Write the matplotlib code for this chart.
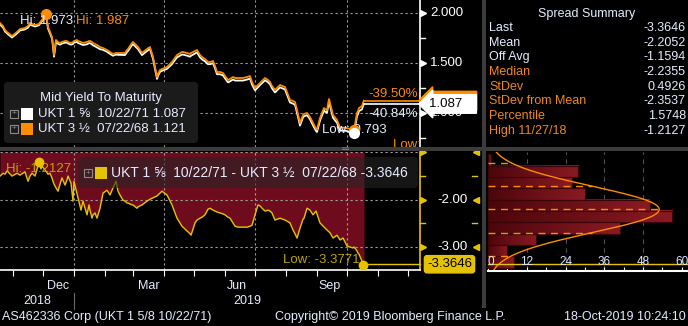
import numpy as np
import pandas as pd
import matplotlib
matplotlib.use('Agg')
import matplotlib.pyplot as plt
from matplotlib.patches import FancyBboxPatch, Rectangle
from matplotlib.colors import LinearSegmentedColormap
from matplotlib.transforms import blended_transform_factory as blend, IdentityTransform

plt.rcParams['font.family'] = ['Liberation Sans', 'DejaVu Sans']

# --- data -------------------------------------------------------------------
dates = [
    '2018-10-19', '2018-10-22', '2018-10-24', '2018-10-26', '2018-10-31', '2018-11-05', '2018-11-08', '2018-11-13', '2018-11-16', '2018-11-18',
    '2018-11-20', '2018-11-23', '2018-11-27', '2018-11-29', '2018-11-30', '2018-12-04', '2018-12-06', '2018-12-08', '2018-12-10', '2018-12-11',
    '2018-12-12', '2018-12-14', '2018-12-16', '2018-12-18', '2018-12-20', '2018-12-23', '2018-12-25', '2018-12-26', '2018-12-29', '2018-12-31',
    '2019-01-01', '2019-01-04', '2019-01-05', '2019-01-08', '2019-01-10', '2019-01-14', '2019-01-16', '2019-01-17', '2019-01-19', '2019-01-20',
    '2019-01-22', '2019-01-24', '2019-01-27', '2019-01-30', '2019-02-03', '2019-02-06', '2019-02-09', '2019-02-12', '2019-02-14', '2019-02-16',
    '2019-02-19', '2019-02-21', '2019-02-23', '2019-02-24', '2019-02-28', '2019-03-01', '2019-03-05', '2019-03-06', '2019-03-10', '2019-03-15',
    '2019-03-18', '2019-03-21', '2019-03-25', '2019-03-26', '2019-03-28', '2019-03-30', '2019-04-04', '2019-04-09', '2019-04-14', '2019-04-19',
    '2019-04-20', '2019-04-24', '2019-04-27', '2019-04-28', '2019-05-02', '2019-05-04', '2019-05-07', '2019-05-09', '2019-05-12', '2019-05-15',
    '2019-05-17', '2019-05-20', '2019-05-22', '2019-05-24', '2019-05-27', '2019-05-30', '2019-06-01', '2019-06-04', '2019-06-06', '2019-06-09',
    '2019-06-11', '2019-06-14', '2019-06-16', '2019-06-19', '2019-06-23', '2019-06-26', '2019-06-28', '2019-07-01', '2019-07-04', '2019-07-06',
    '2019-07-08', '2019-07-11', '2019-07-14', '2019-07-16', '2019-07-18', '2019-07-21', '2019-07-26', '2019-07-31', '2019-08-05', '2019-08-08',
    '2019-08-10', '2019-08-12', '2019-08-15', '2019-08-18', '2019-08-19', '2019-08-22', '2019-08-25', '2019-08-28', '2019-08-31', '2019-09-01',
    '2019-09-04', '2019-09-08', '2019-09-09', '2019-09-11', '2019-09-13', '2019-09-14', '2019-09-17', '2019-09-21', '2019-09-24', '2019-09-27',
    '2019-09-29', '2019-10-01', '2019-10-04', '2019-10-07', '2019-10-08', '2019-10-11', '2019-10-12', '2019-10-13', '2019-10-16', '2019-10-17',
    '2019-10-18',
]

# UKT 3 1/2 07/22/68 mid yield (orange)
ukt68 = [
    1.897, 1.867, 1.827, 1.807, 1.767, 1.807, 1.837, 1.847, 1.867, 1.897,
    1.887, 1.877, 1.887, 1.917, 1.927, 1.987, 1.857, 1.807, 1.757, 1.677,
    1.577, 1.727, 1.707, 1.697, 1.707, 1.717, 1.717, 1.707, 1.697, 1.707,
    1.717, 1.727, 1.717, 1.707, 1.697, 1.707, 1.717, 1.717, 1.707, 1.697,
    1.687, 1.677, 1.657, 1.647, 1.627, 1.607, 1.587, 1.597, 1.597, 1.597,
    1.597, 1.597, 1.627, 1.637, 1.697, 1.707, 1.667, 1.657, 1.597, 1.637,
    1.657, 1.557, 1.357, 1.387, 1.427, 1.437, 1.457, 1.507, 1.577, 1.607,
    1.607, 1.597, 1.587, 1.597, 1.617, 1.627, 1.577, 1.557, 1.537, 1.507,
    1.507, 1.517, 1.467, 1.407, 1.407, 1.397, 1.367, 1.327, 1.337, 1.357,
    1.347, 1.347, 1.347, 1.347, 1.357, 1.367, 1.307, 1.247, 1.277, 1.297,
    1.317, 1.347, 1.327, 1.307, 1.267, 1.227, 1.277, 1.257, 1.127, 1.117,
    1.107, 1.027, 0.897, 0.977, 0.987, 0.997, 0.957, 0.897, 0.840, 0.830,
    0.947, 1.047, 1.037, 1.027, 1.137, 1.097, 0.977, 0.927, 0.850, 0.850,
    0.850, 0.845, 0.838, 0.830, 0.823, 0.997, 1.017, 1.047, 1.067, 1.100,
    1.121,
]

# spread UKT 1 5/8 71 - UKT 3 1/2 68, in bp (yellow)
spread_bp = [
    -1.50, -1.44, -1.46, -1.39, -1.50, -1.44, -1.48, -1.41, -1.61, -1.50,
    -1.44, -1.50, -1.2127, -1.35, -1.29, -1.40, -1.46, -1.44, -1.54, -1.61,
    -1.67, -1.75, -1.82, -1.67, -1.54, -1.69, -1.58, -1.50, -1.65, -2.03,
    -1.61, -1.88, -1.96, -2.22, -2.03, -2.32, -2.11, -2.22, -2.39, -2.32,
    -2.28, -2.39, -2.18, -1.86, -1.80, -1.90, -1.75, -1.61, -1.82, -1.90,
    -2.01, -2.03, -2.07, -2.07, -2.11, -2.11, -2.18, -2.15, -2.11, -2.03,
    -1.99, -1.96, -1.92, -1.90, -1.86, -1.82, -1.90, -2.11, -2.39, -2.56,
    -2.58, -2.66, -2.72, -2.75, -2.49, -2.43, -2.39, -2.37, -2.32, -2.20,
    -2.18, -2.22, -2.24, -2.26, -2.28, -2.30, -2.32, -2.37, -2.39, -2.49,
    -2.56, -2.58, -2.58, -2.58, -2.58, -2.56, -2.54, -2.32, -2.11, -2.13,
    -2.18, -2.24, -2.22, -2.24, -2.28, -2.43, -2.39, -2.43, -2.49, -2.64,
    -2.72, -2.81, -2.60, -2.41, -2.39, -2.18, -2.22, -2.32, -2.24, -2.30,
    -2.49, -2.58, -2.60, -2.64, -2.68, -2.70, -2.81, -2.75, -2.85, -2.81,
    -2.89, -2.98, -3.00, -3.02, -3.00, -3.08, -3.13, -3.15, -3.30, -3.3771,
    -3.3646,
]

bond_names = ['UKT 1 \u215d  10/22/71', 'UKT 3 \u00bd  07/22/68']
pct_change = ['-40.84%', '-39.50%']

hist_edges = [-3.44, -3.20, -2.96, -2.72, -2.48, -2.24, -2.00, -1.76, -1.52, -1.28, -1.04]
hist_counts = [8, 6, 15, 41, 57, 50, 30, 26, 28, 1]
spread_mean = -2.2052
spread_std = 0.4926
curve_peak = 53

summary_labels = ['Last', 'Mean', 'Off Avg', 'Median', 'StDev', 'StDev from Mean', 'Percentile', 'High 11/27/18']
summary_values = ['-3.3646', '-2.2052', '-1.1594', '-2.2355', '0.4926', '-2.3537', '1.5748', '-1.2127']

yield_ticks = [1.0, 1.5, 2.0]
spread_ticks = [-1.0, -2.0, -3.0]
quarter_starts = ['2019-01-01', '2019-04-01', '2019-07-01', '2019-10-01']
month_labels = ['Dec', 'Mar', 'Jun', 'Sep']
month_mids = ['2018-12-16', '2019-03-17', '2019-06-13', '2019-09-14']
footer = ['AS462336 Corp (UKT 1 5/8 10/22/71)', 'Copyright\u00a9 2019 Bloomberg Finance L.P.', '18-Oct-2019 10:24:10']

# --- styling -----------------------------------------------------------------
ORANGE = '#ff8c00'
YELLOW = '#e6c300'
OLIVE = '#bca400'
REDFILL = '#6e0c1e'
TXT = '#e6ecff'
LBL_OR = '#f0881a'
SEP = '#3c3c3c'
W, H = 688, 326

d = pd.to_datetime(dates)
y68 = np.array(ukt68)
spr = np.array(spread_bp)
y71 = y68 + spr / 100.0   # spread is the yield difference in bp

t0 = pd.Timestamp('2018-10-19')
t1 = t0 + pd.Timedelta(days=420)


def rect(x0, y0, x1, y1):
    return [x0 / W, 1 - y1 / H, (x1 - x0) / W, (y1 - y0) / H]


def ptext(x, y, s, **kw):
    fig.text(x / W, 1 - y / H, s, **kw)


def pbox(x0, y0, x1, y1, r=4, **kw):
    p = FancyBboxPatch((x0, H - y1), x1 - x0, y1 - y0, boxstyle='round,pad=0,rounding_size=%d' % r,
                       transform=IdentityTransform(), **kw)
    fig.add_artist(p)


def plusbox(x, y):
    fig.add_artist(Rectangle((x - 4, H - y - 4), 8, 8, transform=IdentityTransform(),
                             fill=False, ec='#8a8a8a', lw=0.8, zorder=20))
    ptext(x, y, '+', color='#8a8a8a', fontsize=6, ha='center', va='center', zorder=21)


fig = plt.figure(figsize=(6.88, 3.26), dpi=100, facecolor='black')

ax1 = fig.add_axes(rect(0, 0, 420, 147))
ax2 = fig.add_axes(rect(0, 152, 420, 270))
ax3 = fig.add_axes(rect(488, 152, 688, 270))
for ax in (ax1, ax2, ax3):
    ax.set_facecolor('black')
    for s in ax.spines.values():
        s.set_visible(False)
    ax.set_xticks([])
    ax.set_yticks([])

ax1.set_xlim(t0, t1)
ax2.set_xlim(t0, t1)
ax1.set_ylim(0.657, 2.127)
ax2.set_ylim(-3.486, -0.9915)

grid_kw = dict(color='#a0a0a0', lw=0.8, ls=(0, (2, 2.5)), zorder=1)
for v in yield_ticks:
    ax1.axhline(v, **grid_kw)
for v in spread_ticks:
    ax2.axhline(v, **grid_kw)
for q in quarter_starts:
    ax1.axvline(pd.Timestamp(q), **grid_kw)
    ax2.axvline(pd.Timestamp(q), **grid_kw)

# --- top panel: yields -------------------------------------------------------
ax1.plot(d, y71, color='white', lw=1.3, zorder=3)
ax1.plot(d, y68, color=ORANGE, lw=1.3, zorder=4)
ax1.plot([d[-1], t1], [y68[-1]] * 2, color=ORANGE, lw=1.2, zorder=4, clip_on=False)
ax1.plot([d[-1], t1], [y71[-1]] * 2, color='white', lw=1.2, zorder=4, clip_on=False)
ax1.annotate(pct_change[1], (t1, y68[-1]), xytext=(-2, 1), textcoords='offset pixels',
             color=ORANGE, fontsize=9.5, ha='right', va='bottom', zorder=5)
ax1.annotate(pct_change[0], (t1, y71[-1]), xytext=(-2, -4), textcoords='offset pixels',
             color=TXT, fontsize=9.5, ha='right', va='top', zorder=5)

ih = int(np.argmax(y68))
ax1.plot(d[ih], y68[ih], 'o', ms=7, color=ORANGE, zorder=6)
ax1.annotate('Hi: %.3f' % y71[ih], (d[ih], y68[ih]), xytext=(27, -7), textcoords='offset pixels',
             color=TXT, fontsize=9.5, ha='right', va='center', zorder=7)
ax1.annotate('Hi: %.3f' % y68[ih], (d[ih], y68[ih]), xytext=(30, -7), textcoords='offset pixels',
             color=ORANGE, fontsize=9.5, ha='left', va='center', zorder=7)

il = int(np.argmin(y71))
ax1.annotate('Low: %.3f' % y71[il], (d[il], y71[il]), xytext=(-32, 3), textcoords='offset pixels',
             color=TXT, fontsize=9.5, ha='left', va='center', zorder=5)
ax1.plot(d[il], y68[il], 'o', ms=7, color=ORANGE, zorder=6)
ax1.plot(d[il], y71[il], 'o', ms=7, color='white', zorder=6)
# orange low label sits under the panel edge, so only its top shows
ax1.annotate('Low: %.3f' % y68[il], (d[il], y68[il]), xytext=(39, -15), textcoords='offset pixels',
             color=ORANGE, fontsize=9.5, ha='left', va='center', zorder=5, clip_on=True)

# right axis of top panel
tr1 = blend(ax1.transAxes, ax1.transData)
ax1.plot([1, 1], [0, 1], transform=ax1.transAxes, color='white', lw=1.2, clip_on=False)
for v in yield_ticks:
    ax1.plot(1.0 + 3 / 420, v, marker='>', ms=5, color='white', transform=tr1, clip_on=False)
    ax1.text(1.0 + 10 / 420, v, '%.3f' % v, transform=tr1, color='white', fontsize=9.5,
             ha='left', va='center', clip_on=False)
for v in [0.75, 1.25, 1.75]:
    ax1.plot([1.0, 1.0 + 5 / 420], [v, v], transform=tr1, color='white', lw=1, clip_on=False)
ax1.text(1.0 + 9 / 420, y68[-1], '%.3f   ' % y68[-1], transform=tr1, color=ORANGE, fontsize=9.5,
         ha='left', va='center', clip_on=False, zorder=8,
         bbox=dict(boxstyle='larrow,pad=0.25', fc=ORANGE, ec=ORANGE))
ax1.text(1.0 + 9 / 420, y71[-1], '%.3f   ' % y71[-1], transform=tr1, color='black', fontsize=9.5,
         ha='left', va='center', clip_on=False, zorder=9,
         bbox=dict(boxstyle='larrow,pad=0.25', fc='white', ec='white'))

# legend of top panel
pbox(4, 82, 198, 143, fc='#1b1b1b', ec='none', zorder=10)
ptext(101, 98, 'Mid Yield To Maturity', color=TXT, fontsize=9.5, ha='center', va='center', zorder=11)
for k, (name, col, last) in enumerate(zip(bond_names, ['white', ORANGE], [y71[-1], y68[-1]])):
    yy = 114 + 15 * k
    plusbox(14, yy)
    fig.add_artist(Rectangle((21, H - yy - 6), 12, 12, transform=IdentityTransform(), fc=col, ec='none', zorder=11))
    ptext(38, yy, '%s %.3f' % (name, last), color=TXT, fontsize=9.5, ha='left', va='center', zorder=11)

# --- bottom panel: spread ----------------------------------------------------
top2 = ax2.get_ylim()[1]
ax2.fill_between(d, spr, top2, color=REDFILL, lw=0, zorder=0.5)
ax2.plot(d, spr, color=YELLOW, lw=1, zorder=3)
ax2.plot([d[-1], t1], [spr[-1]] * 2, color=YELLOW, lw=1, zorder=3, clip_on=False)

jh = int(np.argmax(spr))
jl = int(np.argmin(spr))
ax2.plot(d[jh], spr[jh], 'o', ms=6, color=YELLOW, zorder=5)
ax2.annotate('Hi: %.4f' % spr[jh], (d[jh], spr[jh]), xytext=(0, -7), textcoords='offset pixels',
             color=OLIVE, fontsize=9.5, ha='center', va='center', zorder=4)
ax2.plot(d[jl], spr[jl], 'o', ms=6, color=YELLOW, zorder=5)
ax2.annotate('Low: %.4f' % spr[jl], (d[jl], spr[jl]), xytext=(-3, 5), textcoords='offset pixels',
             color=OLIVE, fontsize=9.5, ha='right', va='center', zorder=4)

tr2 = blend(ax2.transAxes, ax2.transData)
ax2.plot([1, 1], [0, 1], transform=ax2.transAxes, color=YELLOW, lw=1.2, clip_on=False)
for v in spread_ticks:
    ax2.plot(1.0 + 3 / 420, v, marker='>', ms=5, color=YELLOW, transform=tr2, clip_on=False)
    ax2.plot(1.0 + 56 / 420, v, marker='<', ms=5, color=YELLOW, transform=tr2, clip_on=False)
for v in spread_ticks[1:]:
    ax2.text(1.0 + 48 / 420, v, '%.2f' % v, transform=tr2, color='white', fontsize=9.5,
             ha='right', va='center', clip_on=False)
for v in [-1.5, -2.5]:
    ax2.plot([1.0, 1.0 + 5 / 420], [v, v], transform=tr2, color=YELLOW, lw=1, clip_on=False)
    ax2.plot([1.0 + 52 / 420, 1.0 + 57 / 420], [v, v], transform=tr2, color=YELLOW, lw=1, clip_on=False)
ax2.text(1.0 + 7 / 420, spr[-1], '%.4f' % spr[-1], transform=tr2, color='black', fontsize=9.5,
         ha='left', va='center', clip_on=False, zorder=9,
         bbox=dict(boxstyle='round,pad=0.2', fc=YELLOW, ec=YELLOW))

# bottom axis with monthly ticks
ax2.spines['bottom'].set_visible(True)
ax2.spines['bottom'].set_color('white')
ax2.spines['bottom'].set_linewidth(1.2)
ax2.set_xticks(pd.date_range('2018-11-01', '2019-12-01', freq='MS'))
ax2.tick_params(axis='x', direction='out', length=4, color='white', labelbottom=False)
trx = blend(ax2.transData, ax2.transAxes)
for m, lab in zip(month_mids, month_labels):
    ax2.text(pd.Timestamp(m), -16 / 118, lab, transform=trx, color=TXT, fontsize=9,
             ha='center', va='center', clip_on=False)
jan1 = pd.Timestamp('2019-01-01')
ax2.text(t0 + (jan1 - t0) / 2, -31 / 118, '2018', transform=trx, color=TXT, fontsize=9,
         ha='center', va='center', clip_on=False)
ax2.text(jan1 + (t1 - jan1) / 2, -31 / 118, '2019', transform=trx, color=TXT, fontsize=9,
         ha='center', va='center', clip_on=False)
ax2.plot([jan1, jan1], [-23 / 118, -39 / 118], transform=trx, color='#6a6a6a', lw=0.8, clip_on=False)

# legend of bottom panel
pbox(78, 157, 418, 188, fc='#262626', ec='none', alpha=0.6, zorder=10)
plusbox(88, 173)
fig.add_artist(Rectangle((95, H - 173 - 6), 12, 12, transform=IdentityTransform(), fc=YELLOW, ec='none', zorder=11))
ptext(111, 173, '%s - %s %.4f' % (bond_names[0], bond_names[1], spr[-1]), color=TXT, fontsize=10,
      ha='left', va='center', zorder=11)

# --- histogram of the spread --------------------------------------------------
edges = np.array(hist_edges)
xmax3 = 200 / 3.23
bar_cm = LinearSegmentedColormap.from_list('bar', ['#4c060b', '#8a1a22'])
grad = np.linspace(0, 1, 64).reshape(1, -1)
for c, lo, hi in zip(hist_counts, edges[:-1], edges[1:]):
    ax3.imshow(grad, cmap=bar_cm, extent=[0, c, lo, hi], aspect='auto', zorder=2, interpolation='bilinear')
ax3.barh((edges[:-1] + edges[1:]) / 2, hist_counts, height=np.diff(edges),
         fill=False, edgecolor='#3a0509', lw=0.8, zorder=2.5)
ax3.set_ylim(ax2.get_ylim())
ax3.set_xlim(0, xmax3)
for k in [12, 24, 36, 48]:
    ax3.axvline(k, color='#505050', lw=0.8, ls=(0, (4, 4)), zorder=1)
ys = np.linspace(-3.49, -0.99, 200)
ax3.plot(curve_peak * np.exp(-0.5 * ((ys - spread_mean) / spread_std) ** 2), ys, color=ORANGE, lw=1, zorder=4)
for k in [-2, -1, 0, 1, 2]:
    yv = spread_mean + k * spread_std
    ax3.plot([0, curve_peak * np.exp(-0.5 * k * k)], [yv, yv], color=ORANGE, lw=1, ls=(0, (5, 4)), zorder=3)
ax3.axhline(spr[-1], color=YELLOW, lw=1, zorder=5)
trh = blend(ax3.transData, ax3.transAxes)
for k in range(0, 61, 12):
    ax3.text(k + (1 if k == 0 else 0), 0.065, str(k), transform=trh, color='#dde6ff', fontsize=8.5,
             ha='center', va='center', zorder=6)
ax3.spines['bottom'].set_visible(True)
ax3.spines['bottom'].set_color('white')
ax3.spines['bottom'].set_linewidth(1.5)
ax3.spines['bottom'].set_position(('outward', 1))
ax3.set_xticks(np.arange(0, 61, 6))
ax3.tick_params(axis='x', direction='in', length=3, color='white', labelbottom=False)

# --- separators, summary and footer -------------------------------------------
fig.add_artist(Rectangle((0, H - 151), W, 4, transform=IdentityTransform(), fc=SEP, ec='none', zorder=30))
fig.add_artist(Rectangle((482, H - 308), 4, 308, transform=IdentityTransform(), fc=SEP, ec='none', zorder=30))
ptext(345, 149, '\u2550', color='#8a8a8a', fontsize=7, ha='center', va='center', zorder=31)

ptext(587, 14, 'Spread Summary', color=TXT, fontsize=9, ha='center', va='center')
for k, (lab, val) in enumerate(zip(summary_labels, summary_values)):
    yy = 28 + 14.7 * k
    ptext(489, yy, lab, color=TXT if k < 3 else LBL_OR, fontsize=9, ha='left', va='center')
    ptext(686, yy, val, color=TXT, fontsize=9, ha='right', va='center')

ptext(2, 317, footer[0], color=TXT, fontsize=9, ha='left', va='center')
ptext(390, 317, footer[1], color=TXT, fontsize=9, ha='center', va='center')
ptext(686, 317, footer[2], color=TXT, fontsize=9, ha='right', va='center')

fig.savefig('out.png', dpi=100, facecolor='black')
